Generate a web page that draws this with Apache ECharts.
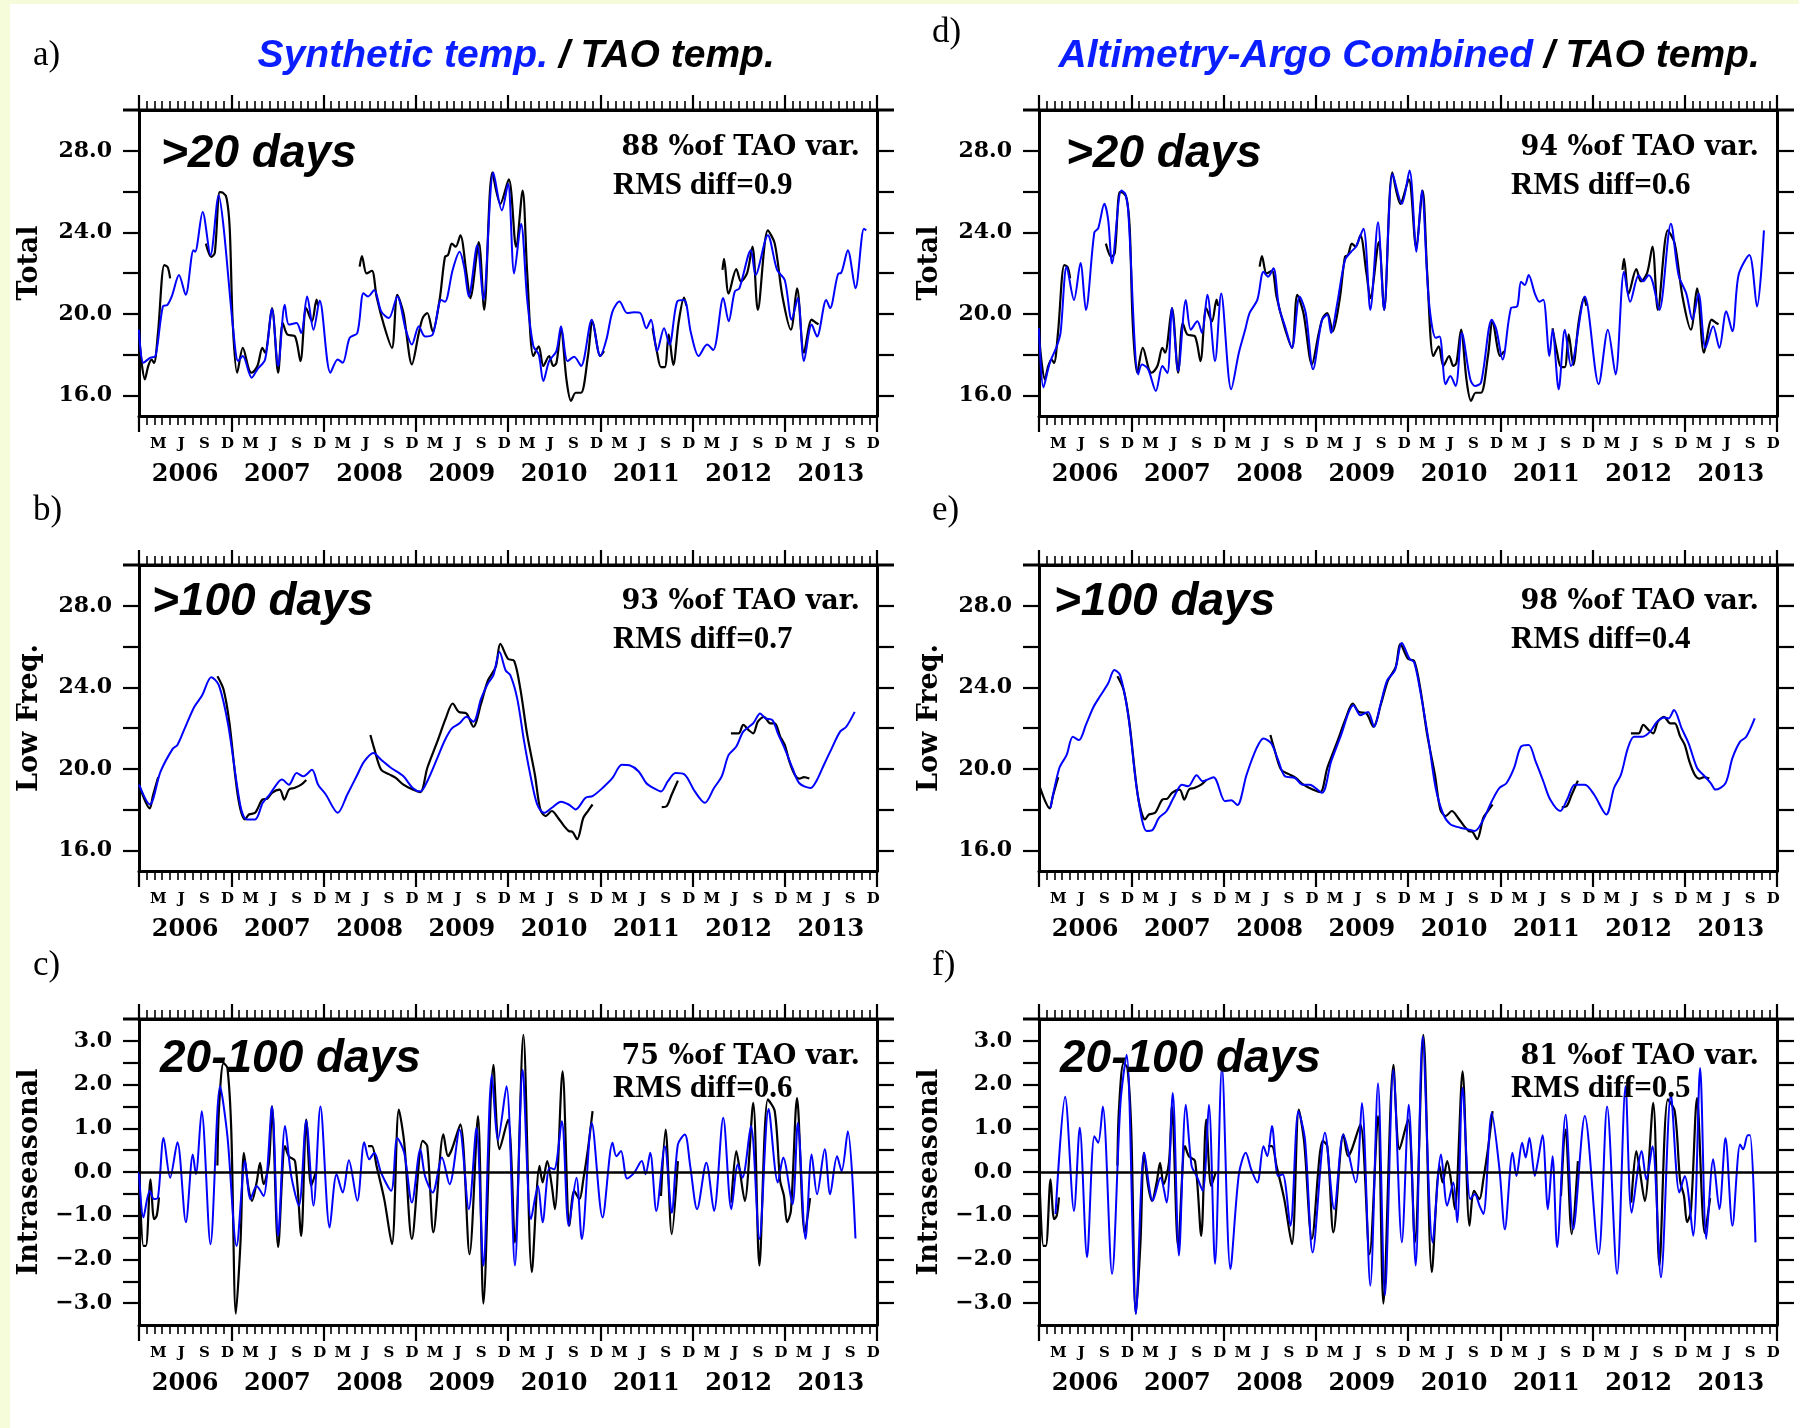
<!DOCTYPE html>
<html>
<head>
<meta charset="utf-8">
<script src="https://cdn.jsdelivr.net/npm/echarts@6/dist/echarts.min.js"></script>
<style>
  html, body { margin: 0; padding: 0; background: #f6fbd9; }
  #sheet { position: absolute; left: 10px; top: 4px; width: 1789px; height: 1424px; background: #ffffff; }
  #chart { position: absolute; left: 0; top: 0; width: 1799px; height: 1428px; }
</style>
</head>
<body>
<div id="sheet"></div>
<div id="chart"></div>
<script>
// Time is counted in months since 1 Jan 2006; each pair is [month, value in deg C].
const monthLetters = ['J', 'F', 'M', 'A', 'M', 'J', 'J', 'A', 'S', 'O', 'N', 'D'];
const labelledMonths = [2, 5, 8, 11];
const yearLabels = ['2006', '2007', '2008', '2009', '2010', '2011', '2012', '2013'];

const tempTicks = [16, 18, 20, 22, 24, 26, 28];
const tempTickLabels = [16, 20, 24, 28];
const anomTicks = [-3, -2.5, -2, -1.5, -1, -0.5, 0, 0.5, 1, 1.5, 2, 2.5, 3];
const anomTickLabels = [-3, -2, -1, 0, 1, 2, 3];

// TAO mooring temperature (gappy record), >20 days
const taoTotal = [
  [[0,19.0],[0.35,17.6],[0.76,16.8],[1.2,17.45],[1.64,17.77],[1.96,17.6],[2.47,19.07],[3.29,22.4],[3.73,22.3],[4.05,21.75]],
  [[8.7,23.45],[9.4,22.8],[9.86,23.0],[10.5,25.97],[10.9,25.95],[11.4,25.66],[11.8,24.2],[12.2,19.5],[12.77,17.12],[13.5,18.34],[14.3,17.29],[14.66,17.12],[15.4,17.45],[16.05,18.34],[16.4,18.1],[17.3,20.29],[18.1,17.12],[18.7,19.56],[19.3,18.99],[20.3,18.9],[21.0,17.69],[21.75,20.29],[22.5,19.64],[23.1,20.7],[23.3,20.4]],
  [[28.7,22.32],[29.0,22.84],[29.6,21.99],[30.3,22.12],[30.9,20.86],[31.9,19.4],[32.9,18.34],[33.6,20.94],[34.4,20.05],[35.5,17.53],[36.4,19.07],[36.9,19.8],[37.5,20.05],[38.2,19.15],[39.1,20.69],[39.8,22.8],[40.2,22.89],[40.7,23.45],[41.2,23.3],[41.8,23.86],[42.6,21.99],[43.1,20.78],[44.2,23.53],[44.9,20.21],[45.96,26.94],[47.0,25.4],[48.1,26.6],[49.05,23.29],[49.9,26.05],[50.5,21.99],[51.3,17.94],[52.0,18.42],[52.6,17.45],[53.35,17.94],[53.9,17.45],[54.3,17.6],[54.9,19.23],[55.6,16.8],[56.2,15.74],[56.8,16.14],[57.5,16.14],[58.4,17.94],[59.0,19.64],[60.0,17.94],[60.5,18.18]],
  [[66.8,19.3],[67.4,18.1],[67.9,17.4],[68.4,17.4],[68.9,19.0],[69.5,17.5],[70.2,19.6],[70.9,20.8],[71.2,20.4]],
  [[75.9,22.16],[76.1,22.7],[76.7,21.0],[77.7,22.2],[78.3,21.6],[79.1,22.0],[79.8,23.3],[80.5,20.2],[81.8,24.1],[82.7,23.45],[83.7,20.86],[84.8,19.23],[85.6,21.26],[86.5,18.1],[87.5,19.72],[88.1,19.56],[88.4,19.5]]
];

// Synthetic temperature, >20 days
const synTotal = [[0,19.23],[0.57,17.61],[1.5,17.86],[2.15,17.94],[3.1,20.37],[3.7,20.45],[4.3,20.9],[5.2,21.91],[6.07,20.94],[7.08,23.13],[7.3,23.05],[8.28,25.0],[9.3,22.89],[10.37,25.81],[11.0,24.27],[12.26,19.23],[12.9,17.69],[13.5,17.94],[14.66,16.88],[15.4,17.29],[16.4,17.77],[17.3,20.24],[18.1,17.45],[18.96,20.45],[19.5,19.48],[20.5,19.56],[21.1,19.07],[21.87,20.86],[22.7,19.23],[23.5,20.66],[24.9,17.12],[25.85,17.77],[26.5,17.61],[27.4,18.83],[28.4,19.07],[29.2,21.02],[29.8,20.86],[30.6,21.18],[31.5,20.13],[32.5,19.8],[33.6,20.86],[34.7,19.23],[35.5,18.5],[36.4,19.4],[37.2,18.9],[38.2,18.99],[39.3,20.69],[39.8,20.6],[40.8,22.16],[41.7,23.05],[42.3,22.3],[42.9,20.86],[44.0,23.37],[44.8,20.69],[46.1,26.94],[47.2,25.08],[48.0,26.38],[48.8,21.99],[49.7,24.43],[50.5,20.69],[51.3,18.42],[52.0,18.02],[52.6,16.72],[53.35,17.69],[54.3,18.18],[54.9,19.4],[55.75,17.69],[56.6,17.9],[57.5,17.45],[58.9,19.72],[60.0,17.94],[60.8,18.75],[61.6,20.13],[62.5,20.61],[63.5,20.05],[64.4,20.08],[65.2,20.05],[66.0,19.3],[66.6,19.72],[67.4,18.18],[68.3,19.3],[69.0,18.5],[70.0,20.61],[70.9,20.69],[71.8,19.07],[72.8,17.94],[73.9,18.5],[74.7,18.23],[76.0,20.78],[76.7,19.64],[77.5,21.1],[78.1,21.26],[79.6,23.13],[80.2,21.91],[81.8,23.86],[83.0,22.16],[84.0,21.67],[84.9,19.72],[85.7,20.78],[86.5,17.69],[87.5,19.48],[88.2,18.9],[89.4,20.69],[89.9,20.29],[91.0,21.99],[91.3,22.0],[92.2,23.13],[93.2,21.26],[94.3,24.18],[94.6,24.1]];

// Altimetry-Argo combined temperature, >20 days
const aacTotal = [[0,19.3],[0.57,16.4],[1.4,17.6],[2.3,18.4],[2.8,19.07],[3.6,22.32],[4.55,20.69],[5.4,22.5],[6.1,20.2],[7.2,24.0],[7.7,24.2],[8.5,25.4],[9.0,24.6],[9.5,22.48],[10.7,26.05],[11.2,25.9],[11.6,25.08],[12.9,17.04],[13.4,17.53],[14.2,17.29],[15.2,16.23],[16.05,17.45],[16.7,17.1],[17.3,20.29],[18.1,17.2],[19.1,20.69],[19.75,19.23],[20.6,19.64],[21.2,19.07],[21.9,20.94],[22.9,17.69],[23.7,21.0],[25.0,16.31],[26.0,18.1],[26.8,19.2],[27.4,20.05],[28.4,20.69],[29.2,22.07],[29.8,21.83],[30.5,22.24],[31.2,20.37],[32.0,19.4],[32.9,18.34],[33.9,20.86],[34.7,20.05],[35.65,17.29],[36.8,19.7],[37.5,19.96],[38.0,19.07],[38.8,20.53],[39.8,22.64],[40.6,23.05],[41.2,23.29],[42.2,24.18],[43.1,20.2],[44.1,24.5],[44.9,20.2],[46.0,26.86],[47.2,25.4],[48.2,27.03],[49.1,23.05],[49.8,26.05],[50.7,20.69],[51.6,18.83],[52.1,18.9],[52.9,16.56],[53.5,16.96],[54.2,16.47],[55.0,19.07],[56.1,16.8],[56.7,16.47],[57.5,16.64],[58.9,19.72],[59.5,19.23],[60.3,17.77],[61.4,20.29],[62.2,20.37],[62.7,21.58],[63.2,21.42],[63.7,21.91],[64.5,21.0],[65.1,20.6],[65.6,20.7],[66.4,17.94],[66.8,19.23],[67.6,16.31],[68.4,19.23],[69.2,17.45],[71.0,20.86],[72.8,16.56],[74.0,19.23],[75.0,17.04],[76.1,22.07],[76.9,20.6],[78.0,21.9],[78.6,21.6],[79.3,21.9],[79.8,21.6],[80.7,20.2],[82.2,24.43],[83.2,21.9],[84.2,21.0],[85.0,19.72],[85.8,21.0],[86.7,18.34],[87.7,19.4],[88.5,18.34],[89.4,20.13],[90.2,19.15],[91.0,21.91],[92.4,22.89],[93.4,20.37],[94.3,24.1]];

// >100 days
const taoLow = [
  [[0,19.23],[1.4,18.07],[1.8,18.67],[2.5,19.6]],
  [[10.2,24.55],[11.0,23.9],[11.75,22.3],[12.9,18.59],[13.8,17.53],[14.3,17.77],[15.1,17.85],[16.05,18.5],[16.7,18.55],[17.3,18.83],[18.3,18.99],[18.9,18.5],[19.5,18.99],[20.2,19.07],[21.1,19.23],[21.75,19.46]],
  [[30.1,21.67],[30.6,21.0],[31.5,19.96],[32.5,19.75],[33.4,19.56],[34.4,19.23],[35.6,18.99],[36.6,18.87],[37.5,20.05],[38.8,21.34],[39.9,22.48],[40.8,23.21],[41.6,22.8],[42.6,22.72],[43.5,22.07],[44.5,23.21],[45.4,24.35],[46.4,25.0],[47.0,26.13],[48.0,25.4],[48.8,25.3],[49.6,23.94],[50.5,21.67],[51.5,19.72],[52.2,18.02],[52.9,17.69],[53.7,17.94],[54.5,17.61],[55.3,17.2],[55.9,16.96],[56.4,16.91],[57.0,16.56],[57.8,17.61],[58.4,17.94],[59.0,18.26]],
  [[68.0,18.13],[68.65,18.18],[69.3,18.75],[70.1,19.43]],
  [[77.0,21.75],[78.0,21.75],[78.6,22.16],[79.3,21.91],[79.9,21.75],[80.5,22.32],[81.3,22.56],[82.1,22.24],[82.7,22.24],[83.4,21.6],[84.0,21.18],[84.6,20.37],[85.3,19.72],[85.9,19.53],[86.5,19.6],[87.2,19.53]]
];
const synLow = [[0,19.23],[1.4,18.26],[2.8,19.87],[4.4,21.0],[5.0,21.18],[5.95,21.99],[7.2,23.05],[8.2,23.6],[9.4,24.5],[10.4,24.1],[11.6,22.16],[13.2,18.18],[14.0,17.53],[15.1,17.53],[16.1,18.34],[17.0,18.75],[18.0,19.3],[18.6,19.48],[19.5,19.23],[20.5,19.8],[21.4,19.64],[22.5,19.96],[23.3,19.23],[24.3,18.75],[25.85,17.85],[27.1,18.75],[28.4,19.72],[29.3,20.37],[30.5,20.78],[31.5,20.45],[32.8,20.05],[34.4,19.64],[35.6,19.07],[36.6,18.9],[37.5,19.4],[38.8,20.53],[39.8,21.42],[40.7,21.99],[41.7,22.24],[42.6,22.56],[43.5,22.32],[44.5,23.45],[45.4,24.2],[46.1,24.6],[46.9,25.73],[47.7,24.83],[48.3,24.6],[49.2,23.45],[50.1,21.34],[50.9,19.72],[51.8,18.26],[52.7,17.85],[53.7,18.1],[54.9,18.4],[55.9,18.26],[56.8,18.02],[58.1,18.59],[59.0,18.67],[60.3,19.07],[61.6,19.56],[62.8,20.21],[63.8,20.18],[65.0,19.88],[66.0,19.3],[66.9,19.07],[67.9,18.9],[68.8,19.4],[69.8,19.8],[71.0,19.72],[72.3,18.9],[73.6,18.34],[74.8,19.07],[75.8,19.64],[76.7,20.69],[77.7,21.1],[78.6,21.83],[79.9,22.24],[80.8,22.72],[81.5,22.48],[82.4,22.4],[83.1,21.75],[84.0,21.0],[85.0,20.05],[85.9,19.3],[87.4,19.07],[88.1,19.4],[89.1,20.21],[90.1,21.0],[91.2,21.83],[92.0,22.07],[93.1,22.8]];
const aacLow = [[1.5,18.1],[2.65,20.05],[3.6,20.69],[4.4,21.58],[5.2,21.42],[6.1,22.16],[7.1,23.05],[8.0,23.6],[9.0,24.2],[9.8,24.85],[10.55,24.6],[11.6,22.64],[12.8,18.83],[14.0,16.96],[14.7,16.99],[15.6,17.6],[16.6,17.94],[17.5,18.59],[18.6,19.23],[19.4,19.15],[20.5,19.69],[21.3,19.4],[22.7,19.6],[24.2,18.42],[25.0,18.47],[25.8,18.23],[27.0,19.72],[28.3,21.02],[29.2,21.5],[30.2,21.26],[31.1,20.45],[32.0,19.64],[33.3,19.56],[34.3,19.23],[35.2,19.23],[36.8,18.83],[38.0,20.37],[39.3,21.67],[40.3,22.8],[40.9,23.13],[41.8,22.64],[42.8,22.8],[43.6,22.07],[44.4,23.13],[45.3,24.35],[46.3,24.83],[47.2,26.18],[48.2,25.4],[48.8,25.24],[49.7,23.6],[50.7,21.34],[51.6,19.07],[52.6,17.77],[53.5,17.29],[54.8,17.12],[55.8,17.04],[56.7,16.96],[57.7,17.45],[58.9,18.42],[59.9,19.07],[60.8,19.3],[61.8,20.05],[62.7,21.1],[63.7,21.18],[64.6,20.37],[65.6,19.4],[66.5,18.5],[67.8,17.94],[68.7,18.5],[69.7,19.23],[71.0,19.23],[72.2,18.75],[73.8,17.77],[74.8,19.07],[75.7,19.72],[76.6,21.02],[77.4,21.58],[78.5,21.58],[79.5,21.83],[80.4,22.32],[81.4,22.53],[81.9,22.48],[82.6,22.89],[83.6,21.99],[84.5,21.26],[85.6,20.05],[86.4,19.72],[87.4,19.3],[88.0,18.99],[89.3,19.3],[90.2,20.53],[91.2,21.34],[92.0,21.58],[93.1,22.48]];

// 20-100 days anomalies
const taoIntra = [
  [[0,0.14],[0.57,-1.69],[0.9,-1.69],[1.5,-0.17],[1.96,-1.08],[2.3,-1.0],[2.6,-0.58]],
  [[10.2,0.15],[10.4,1.43],[11.0,2.49],[11.5,2.38],[12.0,0.97],[12.6,-3.24],[13.2,-1.61],[13.65,0.44],[14.2,-0.32],[14.7,-0.66],[15.3,-0.24],[15.75,0.21],[16.2,-0.28],[16.9,0.21],[17.3,1.5],[18.1,-1.72],[19.0,0.59],[19.5,0.36],[20.3,0.25],[21.1,-1.46],[21.75,1.2],[22.4,-0.32],[23.0,0.0]],
  [[29.8,0.59],[30.3,0.59],[30.9,0.14],[31.9,-0.62],[32.9,-1.65],[33.8,1.43],[34.5,0.67],[35.5,-1.53],[36.9,0.71],[37.5,0.59],[38.3,-1.38],[39.6,0.86],[40.2,0.36],[40.7,0.52],[41.8,1.09],[43.0,-1.88],[44.1,1.28],[44.8,-3.01],[46.1,2.45],[46.9,0.52],[48.0,1.2],[48.9,-1.61],[50.0,3.14],[51.1,-2.29],[52.1,0.14],[52.5,-0.24],[53.1,0.25],[53.7,-0.32],[54.1,-0.85],[55.1,2.3],[56.0,-1.23],[56.6,-0.43],[57.3,-0.62],[57.8,-0.17],[58.4,0.52],[59.0,1.39]],
  [[67.9,-0.55],[68.5,0.97],[69.3,-1.42],[70.1,0.25]],
  [[77.05,-0.7],[77.7,0.48],[78.1,0.1],[78.8,-0.66],[79.9,1.58],[80.7,-2.14],[81.8,1.66],[82.7,1.39],[83.4,-0.2],[83.9,-0.55],[84.3,-1.15],[84.8,-0.89],[85.6,1.69],[86.6,-1.4],[87.3,-0.6]]
];
const synIntra = [[0,0],[0.57,-1.04],[1.4,-0.43],[1.96,-0.62],[2.47,-0.58],[3.2,0.78],[4.05,-0.13],[5.0,0.68],[6.1,-1.15],[7.0,0.4],[7.4,-0.05],[8.15,1.39],[9.3,-1.65],[10.55,1.96],[11.5,0.82],[12.7,-1.69],[13.8,0.25],[14.5,-0.62],[15.3,-0.32],[16.2,-0.55],[17.3,1.5],[18.1,-1.46],[19.0,1.05],[19.8,-0.09],[20.8,-0.77],[21.75,1.18],[22.7,-0.77],[23.6,1.5],[24.8,-1.27],[25.7,-0.05],[26.5,-0.47],[27.3,0.27],[28.4,-0.66],[29.3,0.68],[29.95,0.29],[30.6,0.44],[31.5,-0.02],[32.8,-0.43],[33.6,0.78],[34.5,0.44],[35.5,-0.7],[36.6,0.52],[37.2,-0.09],[38.2,-0.47],[39.4,0.33],[40.4,-0.28],[41.7,0.97],[42.9,-0.85],[43.9,1.01],[44.8,-2.14],[45.9,2.22],[46.7,0.74],[47.8,1.96],[48.9,-2.14],[49.9,2.34],[51.0,-1.08],[51.9,-0.32],[52.5,-1.15],[53.4,0.1],[54.0,0.06],[55.0,1.16],[55.9,-1.23],[56.9,-0.13],[57.6,-1.53],[58.9,1.12],[60.3,-1.04],[61.6,0.67],[62.1,0.36],[62.7,0.48],[63.5,-0.15],[64.4,-0.02],[65.4,0.25],[65.9,-0.05],[66.5,0.44],[67.3,-0.89],[68.4,0.59],[69.3,-0.93],[70.1,0.63],[71.0,0.86],[71.7,0.14],[72.6,-0.85],[73.8,0.21],[74.8,-0.89],[76.0,1.24],[77.05,-0.85],[77.9,0.17],[78.5,-0.13],[79.6,1.05],[80.7,-1.53],[81.9,1.44],[83.1,-0.24],[83.8,0.33],[85.0,-0.74],[85.7,1.12],[86.7,-1.53],[87.5,0.4],[88.2,-0.51],[89.2,0.52],[89.9,-0.51],[90.8,0.36],[91.4,0.02],[92.2,0.93],[93.2,-1.52]];
const aacIntra = [[2.15,-0.96],[3.4,1.72],[4.55,-0.89],[5.3,1.01],[6.25,-1.95],[7.2,0.82],[7.7,0.67],[8.3,1.5],[9.5,-2.33],[10.6,1.58],[11.4,2.68],[12.6,-3.24],[13.7,0.44],[14.8,-0.66],[15.8,-0.13],[16.6,-0.7],[17.4,1.81],[18.2,-1.91],[19.1,1.54],[19.85,0.14],[20.5,-0.09],[21.3,-0.43],[22.1,1.54],[22.9,-2.1],[23.8,2.41],[24.9,-2.22],[26.0,-0.05],[26.9,0.44],[27.6,0.06],[28.4,-0.24],[29.2,0.59],[29.7,0.36],[30.3,1.05],[31.1,-0.09],[31.7,-0.05],[32.7,-1.23],[33.75,1.39],[34.6,0.74],[35.6,-1.84],[37.2,0.9],[38.4,-0.85],[39.6,0.86],[41.2,-0.24],[42.0,1.58],[43.1,-2.6],[44.1,2.03],[45.0,-2.82],[46.1,2.34],[47.2,-1.61],[48.1,1.54],[49.0,-2.14],[49.9,3.1],[51.2,-1.61],[52.3,0.4],[53.1,-0.77],[53.9,-0.24],[54.4,-1.15],[55.1,1.92],[56.1,-0.62],[56.7,-0.51],[57.3,-0.77],[57.8,-0.96],[58.9,1.35],[59.9,0.06],[60.6,-1.31],[61.6,0.44],[62.1,-0.09],[62.85,0.67],[63.3,0.33],[63.8,0.78],[64.5,-0.09],[64.9,0.25],[65.5,0.84],[66.2,-0.85],[66.8,0.36],[67.4,-1.72],[68.5,1.31],[69.5,-1.31],[71.0,1.28],[72.8,-1.88],[73.9,1.5],[75.2,-2.33],[76.3,1.96],[77.1,-0.93],[78.4,0.48],[79.0,-0.17],[79.8,0.59],[80.9,-2.41],[82.2,1.77],[83.3,-0.47],[84.0,-0.09],[85.1,-1.46],[86.0,2.38],[86.8,-1.53],[87.7,0.29],[88.5,-0.85],[89.3,0.78],[90.2,-1.23],[91.2,0.63],[91.6,0.52],[92.2,0.84],[92.5,0.84],[93.2,-1.61]];

// Panel layout (pixels)
const GRID_W = 738, GRID_H = 306;
const colLeft = [139, 1039];
const rowTop = [110, 565, 1019];
const TAO_COLOR = '#000000';
const MODEL_COLOR = '#0000ff';
const TITLE_BLUE = '#0a1eff';

const rows = [
  { name: 'Total', min: 15, max: 30, ticks: tempTicks, labels: tempTickLabels, band: '>20 days', tao: taoTotal },
  { name: 'Low Freq.', min: 15, max: 30, ticks: tempTicks, labels: tempTickLabels, band: '>100 days', tao: taoLow },
  { name: 'Intraseasonal', min: -3.5, max: 3.5, ticks: anomTicks, labels: anomTickLabels, band: '20-100 days', tao: taoIntra, zero: true }
];

const columns = [
  {
    model: [synTotal, synLow, synIntra],
    letters: ['a)', 'b)', 'c)'],
    varText: ['88 %of TAO var.', '93 %of TAO var.', '75 %of TAO var.'],
    rmsText: ['RMS diff=0.9', 'RMS diff=0.7', 'RMS diff=0.6'],
    titleBlue: 'Synthetic temp.', titleJoin: 548,
    bandX: [161, 152, 160], varRight: 860, rmsLeft: 613,
    letterPos: [[33, 56], [33, 511], [33, 966]]
  },
  {
    model: [aacTotal, aacLow, aacIntra],
    letters: ['d)', 'e)', 'f)'],
    varText: ['94 %of TAO var.', '98 %of TAO var.', '81 %of TAO var.'],
    rmsText: ['RMS diff=0.6', 'RMS diff=0.4', 'RMS diff=0.5'],
    titleBlue: 'Altimetry-Argo Combined', titleJoin: 1533,
    bandX: [1066, 1054, 1060], varRight: 1759, rmsLeft: 1511,
    letterPos: [[932, 33], [932, 511], [932, 966]]
  }
];
const varMid = [148, 602, 1057];
const rmsMid = [186, 640, 1089];
const bandMid = [154, 602, 1059];

const serifBold = 'DejaVu Serif';
const monthCats = [];
yearLabels.forEach(() => monthLetters.forEach(m => monthCats.push(m)));

function fmtTick(v) {
  const s = Math.abs(v).toFixed(1);
  return v < 0 ? '\u2212' + s : s;
}

const grids = [], xAxes = [], yAxes = [], series = [], graphics = [];

columns.forEach((col, c) => {
  rows.forEach((row, r) => {
    const g = grids.length;
    const left = colLeft[c], top = rowTop[r];
    grids.push({ left: left, top: top, width: GRID_W, height: GRID_H });

    const xData = xAxes.length;
    // data axis in months
    xAxes.push({ type: 'value', gridIndex: g, min: 0, max: monthCats.length, show: false });
    // bottom month ticks and letters
    xAxes.push({
      type: 'category', gridIndex: g, position: 'bottom', data: monthCats, boundaryGap: true,
      axisLine: { show: true, onZero: false, lineStyle: { color: '#000', width: 3 } },
      axisTick: { show: true, interval: 0, length: 9, lineStyle: { color: '#000', width: 1.6 } },
      axisLabel: {
        show: true, margin: 21, color: '#000', fontFamily: serifBold, fontWeight: 'bold', fontSize: 15,
        interval: (i) => labelledMonths.indexOf(i % 12) >= 0
      },
      splitLine: { show: false }
    });
    // bottom year ticks and labels
    xAxes.push({
      type: 'category', gridIndex: g, position: 'bottom', data: yearLabels, boundaryGap: true,
      axisLine: { show: false, onZero: false },
      axisTick: { show: true, interval: 0, length: 16, lineStyle: { color: '#000', width: 2.2 } },
      axisLabel: { show: true, interval: 0, margin: 47, color: '#000', fontFamily: serifBold, fontWeight: 'bold', fontSize: 24 },
      splitLine: { show: false }
    });
    // top month ticks
    xAxes.push({
      type: 'category', gridIndex: g, position: 'top', data: monthCats, boundaryGap: true,
      axisLine: { show: true, onZero: false, lineStyle: { color: '#000', width: 3 } },
      axisTick: { show: true, interval: 0, length: 9, lineStyle: { color: '#000', width: 1.6 } },
      axisLabel: { show: false }, splitLine: { show: false }
    });
    // top year ticks
    xAxes.push({
      type: 'category', gridIndex: g, position: 'top', data: yearLabels, boundaryGap: true,
      axisLine: { show: false, onZero: false },
      axisTick: { show: true, interval: 0, length: 15, lineStyle: { color: '#000', width: 2.2 } },
      axisLabel: { show: false }, splitLine: { show: false }
    });

    const yLeft = yAxes.length;
    yAxes.push({
      type: 'value', gridIndex: g, position: 'left', min: row.min, max: row.max,
      axisLine: { show: true, onZero: false, lineStyle: { color: '#000', width: 3 } },
      axisTick: { show: true, inside: false, length: 16, customValues: row.ticks, lineStyle: { color: '#000', width: 2.2 } },
      axisLabel: {
        show: true, customValues: row.labels, formatter: fmtTick, margin: 27,
        color: '#000', fontFamily: serifBold, fontWeight: 'bold', fontSize: 22
      },
      splitLine: { show: false },
      name: row.name, nameLocation: 'middle', nameRotate: 90, nameGap: 96,
      nameTextStyle: { color: '#000', fontFamily: serifBold, fontWeight: 'bold', fontSize: 27 }
    });
    yAxes.push({
      type: 'value', gridIndex: g, position: 'right', min: row.min, max: row.max,
      axisLine: { show: true, onZero: false, lineStyle: { color: '#000', width: 3 } },
      axisTick: { show: true, inside: false, length: 17, customValues: row.ticks, lineStyle: { color: '#000', width: 2.2 } },
      axisLabel: { show: false }, splitLine: { show: false }
    });

    // TAO record, drawn segment by segment
    row.tao.forEach((seg, k) => {
      const s = {
        type: 'line', xAxisIndex: xData, yAxisIndex: yLeft, data: seg,
        symbol: 'none', smooth: 0.3, silent: true, z: 2,
        lineStyle: { color: TAO_COLOR, width: 2.2 }, itemStyle: { color: TAO_COLOR }
      };
      if (row.zero && k === 0) {
        s.markLine = {
          silent: true, symbol: 'none', label: { show: false }, animation: false,
          lineStyle: { color: '#000', width: 2.5, type: 'solid' },
          data: [{ yAxis: 0 }]
        };
      }
      series.push(s);
    });
    // reconstructed temperature
    series.push({
      type: 'line', xAxisIndex: xData, yAxisIndex: yLeft, data: col.model[r],
      symbol: 'none', smooth: 0.3, silent: true, z: 3,
      lineStyle: { color: MODEL_COLOR, width: 2 }, itemStyle: { color: MODEL_COLOR }
    });

    // top frame edge runs out to the tick ends
    graphics.push({
      type: 'line', silent: true, z: 10,
      shape: { x1: left - 16, y1: top, x2: left + GRID_W + 17, y2: top },
      style: { stroke: '#000', lineWidth: 3 }
    });

    // annotations
    graphics.push({
      type: 'text', x: col.bandX[r], y: bandMid[r], z: 20,
      style: { text: row.band, font: 'italic bold 46px "Liberation Sans", Arial, sans-serif', fill: '#000',
               align: 'left', verticalAlign: 'middle', textAlign: 'left', textVerticalAlign: 'middle' }
    });
    graphics.push({
      type: 'text', x: col.varRight, y: varMid[r], z: 20,
      style: { text: col.varText[r], font: 'bold 27px "DejaVu Serif", serif', fill: '#000',
               align: 'right', verticalAlign: 'middle', textAlign: 'right', textVerticalAlign: 'middle' }
    });
    graphics.push({
      type: 'text', x: col.rmsLeft, y: rmsMid[r], z: 20,
      style: { text: col.rmsText[r], font: 'bold 31px "Liberation Serif", serif', fill: '#000',
               align: 'left', verticalAlign: 'middle', textAlign: 'left', textVerticalAlign: 'middle' }
    });
    graphics.push({
      type: 'text', x: col.letterPos[r][0], y: col.letterPos[r][1], z: 20,
      style: { text: col.letters[r], font: '35px "Liberation Serif", serif', fill: '#000',
               align: 'left', verticalAlign: 'middle', textAlign: 'left', textVerticalAlign: 'middle' }
    });
  });

  // column heading: model name in blue, reference in black
  graphics.push({
    type: 'text', x: col.titleJoin, y: 56, z: 20,
    style: { text: col.titleBlue, font: 'italic bold 39px "Liberation Sans", Arial, sans-serif', fill: TITLE_BLUE,
             align: 'right', verticalAlign: 'middle', textAlign: 'right', textVerticalAlign: 'middle' }
  });
  graphics.push({
    type: 'text', x: col.titleJoin, y: 56, z: 20,
    style: { text: ' / TAO temp.', font: 'italic bold 39px "Liberation Sans", Arial, sans-serif', fill: '#000',
             align: 'left', verticalAlign: 'middle', textAlign: 'left', textVerticalAlign: 'middle' }
  });
});

const chart = echarts.init(document.getElementById('chart'), null, { renderer: 'canvas' });
chart.setOption({
  backgroundColor: 'transparent',
  animation: false,
  grid: grids,
  xAxis: xAxes,
  yAxis: yAxes,
  series: series,
  graphic: graphics
});
</script>
</body>
</html>
